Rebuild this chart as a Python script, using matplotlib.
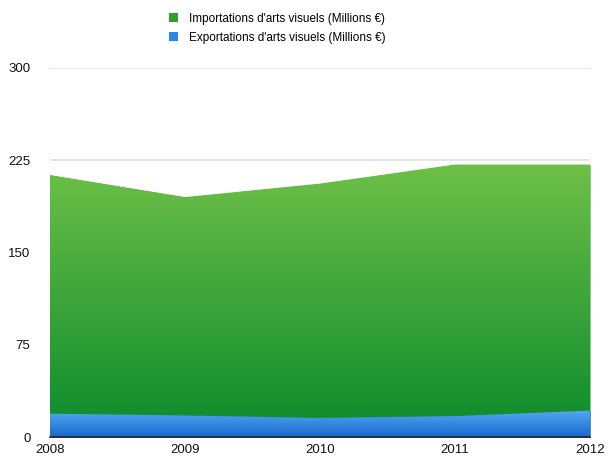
import numpy as np
import matplotlib.pyplot as plt
from matplotlib.colors import LinearSegmentedColormap
from matplotlib.patches import Patch

plt.rcParams['font.family'] = ['Liberation Sans', 'DejaVu Sans']

years = [2008, 2009, 2010, 2011, 2012]
imports = [213, 195, 206, 221.5, 221.5]
exports = [19, 17.5, 15.5, 17, 21.5]
labels = ["Importations d'arts visuels (Millions €)",
          "Exportations d'arts visuels (Millions €)"]
yticks = [0, 75, 150, 225, 300]

fig = plt.figure(figsize=(6.09, 4.59), dpi=100)
ax = fig.add_axes([50 / 609, 1 - 437 / 459, 540 / 609, 369 / 459])


def gradient_fill(ax, x, y, top_col, bot_col, z):
    poly = ax.fill_between(x, 0, y, color=bot_col, lw=0, zorder=z)
    cmap = LinearSegmentedColormap.from_list("g", [bot_col, top_col])
    grad = np.linspace(0, 1, 256).reshape(-1, 1)
    ymax = max(y)
    im = ax.imshow(grad, cmap=cmap, aspect="auto", origin="lower",
                   extent=[x[0], x[-1], 0, ymax], zorder=z + 0.1)
    path = poly.get_paths()[0]
    im.set_clip_path(path, transform=ax.transData)
    return poly


gradient_fill(ax, years, imports, "#6ec048", "#0b8a2c", 2)
gradient_fill(ax, years, exports, "#55a8f0", "#1768cf", 3)

ax.set_xlim(2008, 2012)
ax.set_ylim(0, 300)
ax.set_yticks(yticks)
ax.set_xticks(years)
ax.set_xticklabels([str(y) for y in years])
for s in ["top", "right", "left"]:
    ax.spines[s].set_visible(False)
ax.spines["bottom"].set_color("#222222")
ax.spines["bottom"].set_linewidth(1.2)
ax.spines["bottom"].set_zorder(5)
ax.yaxis.grid(True, color="#e2e2e2", lw=1.2, zorder=0)
ax.set_axisbelow(True)
ax.tick_params(length=0, labelsize=9.5, colors="#111111")
ax.tick_params(axis="y", pad=14)
ax.tick_params(axis="x", pad=5)

handles = [Patch(facecolor="#2f9e33", edgecolor="none"),
           Patch(facecolor="#2f86e0", edgecolor="none")]
fig.legend(handles, labels, loc="upper center", bbox_to_anchor=(0.455, 0.995),
           frameon=False, fontsize=8.5, handlelength=0.8, handleheight=0.8,
           handletextpad=0.9, labelspacing=0.6, borderaxespad=0.5)

fig.savefig("out.png", dpi=100)
